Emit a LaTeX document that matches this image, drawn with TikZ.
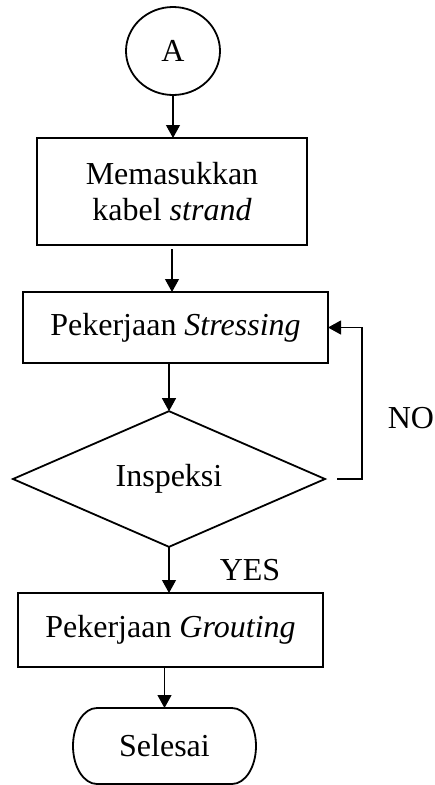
\documentclass[tikz,border=0pt]{standalone}
\usepackage{fontspec}
\setmainfont{Liberation Serif}
\usetikzlibrary{arrows.meta,shapes.geometric}
\begin{document}
\begin{tikzpicture}[x=1pt,y=1pt,
  txt/.style={font=\fontsize{32}{36}\selectfont},
  boxnode/.style={draw,line width=1.8pt,rectangle,inner sep=0pt,outer sep=0pt,txt,align=center},
  arr/.style={line width=1.1pt,-{Triangle[length=13pt,width=14pt]}},
  lbl/.style={txt,inner sep=0pt}]
\useasboundingbox (0,0) rectangle (435,-785);
\node[draw,ellipse,line width=1.8pt,minimum width=94pt,minimum height=88pt,inner sep=0pt,outer sep=0pt,txt] (A) at (173,-51) {A};
\node[boxnode,minimum width=270pt,minimum height=107pt] (b1) at (172,-191.5) {Memasukkan\\kabel \textit{strand}};
\node[boxnode,minimum width=305pt,minimum height=71pt] (b2) at (175.5,-327.5) {Pekerjaan \textit{Stressing}};
\node[draw,diamond,line width=1.8pt,minimum width=312pt,minimum height=132pt,inner sep=0pt,outer sep=0pt,txt] (d) at (169,-479) {Inspeksi};
\node[boxnode,minimum width=305pt,minimum height=74pt] (b3) at (170.5,-630) {Pekerjaan \textit{Grouting}};
\node[minimum width=183pt,minimum height=76pt,inner sep=0pt,outer sep=0pt,txt] (e) at (164.5,-746) {Selesai};
\draw[line width=1.8pt] (97,-708) -- (232,-708) arc[start angle=90,end angle=-90,x radius=24,y radius=38] -- (97,-784) arc[start angle=270,end angle=90,x radius=24,y radius=38] -- cycle;
\node[lbl] (no) at (411,-418) {NO};
\node[lbl] (yes) at (250,-570) {YES};
\coordinate (fb) at (362,-479);
\draw[arr] (A.south) -- (A.south |- b1.north);
\draw[arr] ([yshift=-4pt]b1.south) -- (b1.south |- b2.north);
\draw[arr] (d.north |- b2.south) -- (d.north);
\draw[arr] (d.south) -- (d.south |- b3.north);
\draw[arr] (e.north |- b3.south) -- (e.north);
\draw[arr] ([xshift=12pt]d.east) -- (fb) -- (fb |- b2.east) -- (b2.east);
\end{tikzpicture}
\end{document}
